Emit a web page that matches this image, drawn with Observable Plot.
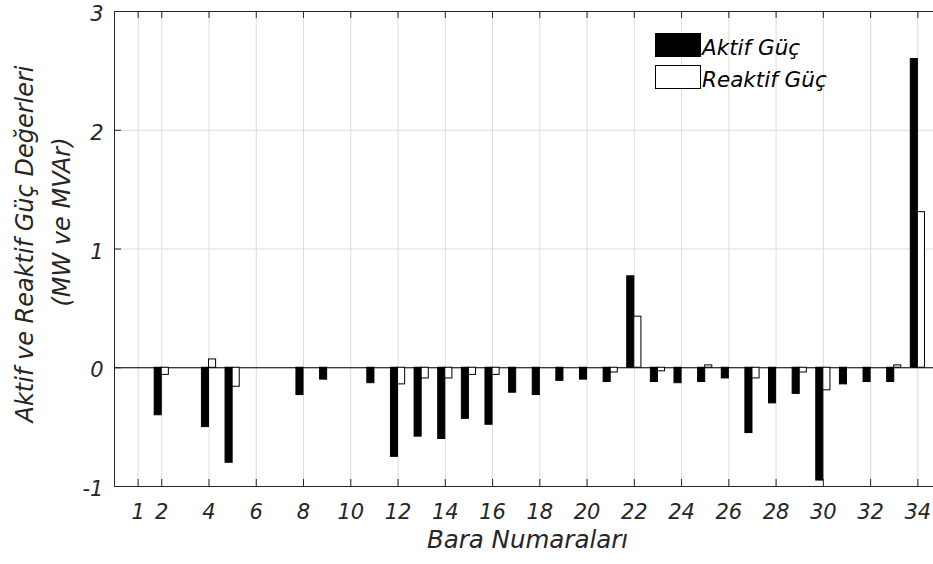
<!DOCTYPE html>
<html>
<head>
<meta charset="utf-8">
<script src="https://cdn.jsdelivr.net/npm/d3@7"></script>
<script src="https://cdn.jsdelivr.net/npm/@observablehq/plot@0.6"></script>
<style>
html, body { margin: 0; padding: 0; background: #fff; overflow: hidden; }
#chart { position: relative; width: 933px; height: 564px; overflow: hidden; }
#chart svg { max-width: none !important; }
</style>
</head>
<body>
<div id="chart"></div>
<script>
// ---- data ----
const buses = [1,2,3,4,5,6,7,8,9,10,11,12,13,14,15,16,17,18,19,20,21,22,23,24,25,26,27,28,29,30,31,32,33,34];
const aktif = [0,-0.40,0,-0.50,-0.80,0,0,-0.23,-0.10,0,-0.13,-0.75,-0.58,-0.60,-0.43,-0.48,-0.21,-0.23,-0.11,-0.10,-0.12,0.77,-0.12,-0.13,-0.12,-0.09,-0.55,-0.30,-0.22,-0.95,-0.14,-0.12,-0.12,2.60];
const reaktif = [0,-0.06,0,0.07,-0.16,0,0,0,0,0,0,-0.14,-0.09,-0.09,-0.06,-0.06,0,0,0,0,-0.04,0.43,-0.03,0,0.02,0,-0.09,0,-0.04,-0.19,0,0,0.02,1.31];
const xTicks = [1,2,4,6,8,10,12,14,16,18,20,22,24,26,28,30,32,34];
const yTicks = [-1,0,1,2,3];
const seriesNames = ["Aktif Güç", "Reaktif Güç"];
const xLabel = "Bara Numaraları";
const yLabelLines = ["Aktif ve Reaktif Güç Değerleri", "(MW ve MVAr)"];

const rows = buses.map((b, i) => ({bus: b, aktif: aktif[i], reaktif: reaktif[i]}));

const W = 941, H = 564, ML = 114, MT = 11, MB = 78, MR = 0;
const plotW = W - ML - MR, plotH = H - MT - MB;
const FONT = "'DejaVu Sans', sans-serif";
const axisColor = "#262626";
const barHalf = 0.3;

const plot = Plot.plot({
  width: W, height: H,
  marginLeft: ML, marginTop: MT, marginBottom: MB, marginRight: MR,
  style: {maxWidth: "none", fontFamily: FONT, fontStyle: "italic", background: "#fff", overflow: "visible"},
  x: {domain: [0, 35], axis: null},
  y: {domain: [-1, 3], axis: null},
  marks: [
    Plot.gridX(xTicks, {stroke: "#dcdcdc", strokeOpacity: 1}),
    Plot.gridY(yTicks, {stroke: "#dcdcdc", strokeOpacity: 1}),
    Plot.ruleY([0], {stroke: "#000", strokeWidth: 1}),
    Plot.rectY(rows.filter(d => d.aktif !== 0), {x1: d => d.bus - barHalf, x2: d => d.bus, y1: 0, y2: "aktif", fill: "#000", stroke: "#000", strokeWidth: 1}),
    Plot.rectY(rows.filter(d => d.reaktif !== 0), {x1: d => d.bus, x2: d => d.bus + barHalf, y1: 0, y2: "reaktif", fill: "#fff", stroke: "#000", strokeWidth: 1}),
    Plot.frame({stroke: axisColor, strokeWidth: 1}),
    Plot.tickX(xTicks, {x: d => d, insetTop: plotH - 7, stroke: axisColor}),
    Plot.tickX(xTicks, {x: d => d, insetBottom: plotH - 7, stroke: axisColor}),
    Plot.tickY(yTicks, {y: d => d, insetRight: plotW - 7, stroke: axisColor}),
    Plot.axisX({ticks: xTicks, anchor: "bottom", tickSize: 0, tickPadding: 18, tickFormat: d => String(d), fontSize: 21, fill: axisColor, label: null}),
    Plot.axisY({ticks: yTicks, anchor: "left", tickSize: 0, tickPadding: 11, tickFormat: d => String(d), fontSize: 21, fill: axisColor, dy: 3, label: null})
  ]
});

document.getElementById("chart").appendChild(plot);

const svg = d3.select(plot);
const txt = svg.append("g")
  .attr("font-family", FONT).attr("font-style", "italic").attr("fill", axisColor);

// x label
txt.append("text")
  .attr("x", ML + plotW / 2).attr("y", 548)
  .attr("text-anchor", "middle").attr("font-size", 24.5)
  .text(xLabel);

// y label (two lines, rotated)
const yCenters = [244, 222];
const yXs = [33, 70];
yLabelLines.forEach((line, i) => {
  txt.append("text")
    .attr("transform", `translate(${yXs[i]},${yCenters[i]}) rotate(-90)`)
    .attr("text-anchor", "middle").attr("font-size", 24)
    .text(line);
});

// legend
const leg = svg.append("g").attr("font-family", FONT).attr("font-style", "italic");
const legFills = ["#000", "#fff"];
seriesNames.forEach((name, i) => {
  const y0 = 33.5 + i * 32;
  leg.append("rect").attr("x", 655.5).attr("y", y0).attr("width", 45).attr("height", 23)
    .attr("fill", legFills[i]).attr("stroke", "#000").attr("stroke-width", 1);
  leg.append("text").attr("x", 702).attr("y", y0 + 21).attr("font-size", 21.5)
    .attr("text-anchor", "start").attr("fill", "#000").text(name);
});
</script>
</body>
</html>
